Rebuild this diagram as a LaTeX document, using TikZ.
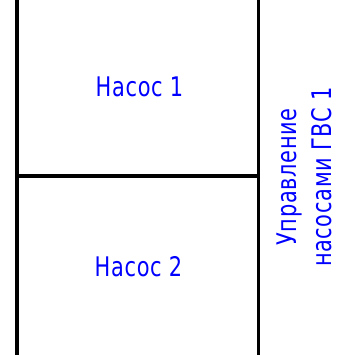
\documentclass[tikz,border=0pt]{standalone}
\usepackage{fontspec}
\setmainfont{DejaVu Sans Condensed}[FakeStretch=0.86,LetterSpace=2.5]
\definecolor{lblue}{RGB}{0,0,255}
\tikzset{
  wall/.style={line width=3.5pt, black},
  lbl/.style={text=lblue, font=\fontsize{27}{35}\selectfont, inner sep=0pt},
  vlbl/.style={text=lblue, font=\fontsize{27}{35}\selectfont, inner sep=0pt, rotate=90, align=center}
}
\begin{document}
\begin{tikzpicture}[x=1pt,y=1pt]
\useasboundingbox (0,0) rectangle (344,355);
\coordinate (lt) at (17,356);
\coordinate (lb) at (17,-1);
\coordinate (rt) at (258.5,356);
\coordinate (rb) at (258.5,-1);
\coordinate (ml) at (15.25,179);
\coordinate (mr) at (260.25,179);
\draw[wall] (lt) -- (lb);
\draw[wall] (rt) -- (rb);
\draw[wall] (ml) -- (mr);
\node[lbl] (p1) at (139.5,268) {Насос 1};
\node[lbl] (p2) at (138.5,88) {Насос 2};
\node[vlbl] (ctl) at (304.5,178) {Управление\\насосами ГВС 1};
\end{tikzpicture}
\end{document}
